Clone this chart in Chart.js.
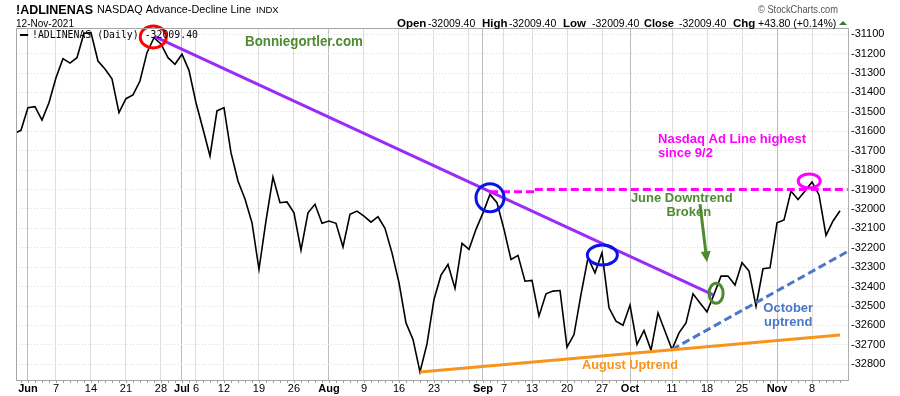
<!DOCTYPE html>
<html>
<head>
<meta charset="utf-8">
<script src="https://cdn.jsdelivr.net/npm/chart.js@4.4.0/dist/chart.umd.min.js"></script>
<style>
  html, body { margin: 0; padding: 0; background: #fff; }
  canvas { display: block; }
</style>
</head>
<body>
<canvas id="adChart" width="900" height="396"></canvas>
<script>
// trading days, 27 May - 12 Nov 2021 (MM-DD)
const tradingDays = [
  '05-27','05-28',
  '06-01','06-02','06-03','06-04','06-07','06-08','06-09','06-10','06-11','06-14','06-15','06-16','06-17','06-18',
  '06-21','06-22','06-23','06-24','06-25','06-28','06-29','06-30',
  '07-01','07-02','07-06','07-07','07-08','07-09','07-12','07-13','07-14','07-15','07-16','07-19','07-20','07-21',
  '07-22','07-23','07-26','07-27','07-28','07-29','07-30',
  '08-02','08-03','08-04','08-05','08-06','08-09','08-10','08-11','08-12','08-13','08-16','08-17','08-18','08-19',
  '08-20','08-23','08-24','08-25','08-26','08-27','08-30','08-31',
  '09-01','09-02','09-03','09-07','09-08','09-09','09-10','09-13','09-14','09-15','09-16','09-17','09-20','09-21',
  '09-22','09-23','09-24','09-27','09-28','09-29','09-30',
  '10-01','10-04','10-05','10-06','10-07','10-08','10-11','10-12','10-13','10-14','10-15','10-18','10-19','10-20',
  '10-21','10-22','10-25','10-26','10-27','10-28','10-29',
  '11-01','11-02','11-03','11-04','11-05','11-08','11-09','11-10','11-11','11-12'
];

// !ADLINENAS daily close
const adValues = [
  -31612, -31595,
  -31478, -31473, -31542, -31453, -31324, -31226, -31249, -31221, -31095, -31092, -31238, -31279, -31330, -31504,
  -31432, -31413, -31341, -31195, -31118, -31150, -31221, -31255,
  -31203, -31286, -31453, -31588, -31727, -31495, -31478, -31710, -31856, -31949, -32071, -32311, -32062, -31836,
  -31968, -31964, -32020, -32212, -32020, -31976, -32074,
  -32062, -32074, -32196, -32028, -32011, -32037, -32068, -32040, -32100, -32226, -32380, -32587, -32672, -32840,
  -32695, -32466, -32341, -32286, -32409, -32177, -32208, -32105,
  -32020, -31925, -31968, -32105, -32260, -32239, -32372, -32368, -32552, -32437, -32423, -32420, -32712, -32647,
  -32440, -32252, -32329, -32226, -32509, -32578, -32599,
  -32495, -32698, -32626, -32727, -32535, -32630, -32724, -32638, -32587, -32437, -32484, -32530, -32440, -32346,
  -32346, -32392, -32277, -32320, -32501, -32308, -32303,
  -32071, -32057, -31908, -31951, -31908, -31861, -31928, -32136, -32062, -32009.4
];

const tickDates  = ['06-01','06-07','06-14','06-21','06-28','07-01','07-06','07-12','07-19','07-26',
                    '08-02','08-09','08-16','08-23','08-30','09-01','09-07','09-13','09-20','09-27',
                    '10-01','10-11','10-18','10-25','11-01','11-08'];
const tickLabels = ['Jun','7','14','21','28','Jul','6','12','19','26',
                    'Aug','9','16','23','','Sep','7','13','20','27',
                    'Oct','11','18','25','Nov','8'];
const monthLabels = ['Jun','Jul','Aug','Sep','Oct','Nov'];
const yTicks = [-31100,-31200,-31300,-31400,-31500,-31600,-31700,-31800,-31900,
                -32000,-32100,-32200,-32300,-32400,-32500,-32600,-32700,-32800];

// hand-drawn markup, in (trading day index, value)
const trendLines = [
  { from: [20.1, -31112], to: [99.9, -32443],  color: '#9a2cf5', dash: [] },
  { from: [68, -31911],   to: [74.4, -31911],  color: '#ff00ff', dash: [8, 4] },
  { from: [74.4, -31900], to: [119.1, -31900], color: '#ff00ff', dash: [8, 4] },
  { from: [94, -32724],   to: [119.1, -32219], color: '#4a78c8', dash: [8, 4] },
  { from: [58, -32840],   to: [118, -32649],   color: '#f7941d', dash: [] }
];
const rings = [
  { at: [19.9, -31114],  rx: 13, ry: 11, color: '#ff0000' },
  { at: [68, -31942],    rx: 14, ry: 14, color: '#0a14e6' },
  { at: [84.05, -32237], rx: 15, ry: 10, color: '#0a14e6' },
  { at: [100.3, -32434], rx: 7,  ry: 10, color: '#4e8a31' },
  { at: [113.6, -31856], rx: 11, ry: 7,  color: '#ff00ff' }
];
const notes = [
  { text: 'Bonniegortler.com',      at: [33, -31140],    align: 'left',   w: 118, size: 14, color: '#4e8a31' },
  { text: 'Nasdaq Ad Line highest', at: [92, -31643],    align: 'left',   w: 150, size: 13, color: '#ff00ff' },
  { text: 'since 9/2',              at: [92, -31716],    align: 'left',   w: 0,   size: 13, color: '#ff00ff' },
  { text: 'June Downtrend',         at: [95.4, -31945],  align: 'center', w: 104, size: 13, color: '#4e8a31' },
  { text: 'Broken',                 at: [96.4, -32020],  align: 'center', w: 0,   size: 13, color: '#4e8a31' },
  { text: 'October',                at: [110.6, -32510], align: 'center', w: 0,   size: 13, color: '#4a78c8' },
  { text: 'uptrend',                at: [110.6, -32582], align: 'center', w: 0,   size: 13, color: '#4a78c8' },
  { text: 'August Uptrend',         at: [88, -32804],    align: 'center', w: 96,  size: 13, color: '#f7941d' }
];
const arrow = { from: [98, -31975], to: [99, -32275], color: '#4e8a31' };

const tickValues = tickDates.map(d => tradingDays.indexOf(d));
const FONT = '"Liberation Sans", Arial, sans-serif';

const markupPlugin = {
  id: 'markup',
  afterDatasetsDraw(chart) {
    const ctx = chart.ctx, xs = chart.scales.x, ys = chart.scales.y;
    const px = p => [xs.getPixelForValue(p[0]), ys.getPixelForValue(p[1])];
    ctx.save();
    ctx.lineWidth = 3;
    trendLines.forEach(t => {
      const a = px(t.from), b = px(t.to);
      ctx.strokeStyle = t.color;
      ctx.setLineDash(t.dash);
      ctx.beginPath(); ctx.moveTo(a[0], a[1]); ctx.lineTo(b[0], b[1]); ctx.stroke();
    });
    ctx.setLineDash([]);
    rings.forEach(r => {
      const c = px(r.at);
      ctx.strokeStyle = r.color;
      ctx.beginPath(); ctx.ellipse(c[0], c[1], r.rx, r.ry, 0, 0, Math.PI * 2); ctx.stroke();
    });
    // arrow
    const a = px(arrow.from), b = px(arrow.to);
    const ang = Math.atan2(b[1] - a[1], b[0] - a[0]);
    ctx.strokeStyle = arrow.color; ctx.fillStyle = arrow.color;
    ctx.beginPath(); ctx.moveTo(a[0], a[1]);
    ctx.lineTo(b[0] - 8 * Math.cos(ang), b[1] - 8 * Math.sin(ang)); ctx.stroke();
    ctx.beginPath();
    ctx.moveTo(b[0], b[1]);
    ctx.lineTo(b[0] - 11 * Math.cos(ang) + 5 * Math.sin(ang), b[1] - 11 * Math.sin(ang) - 5 * Math.cos(ang));
    ctx.lineTo(b[0] - 11 * Math.cos(ang) - 5 * Math.sin(ang), b[1] - 11 * Math.sin(ang) + 5 * Math.cos(ang));
    ctx.closePath(); ctx.fill();
    // notes
    ctx.textBaseline = 'middle';
    notes.forEach(n => {
      const p = px(n.at);
      ctx.font = 'bold ' + n.size + 'px ' + FONT;
      ctx.fillStyle = n.color;
      ctx.textAlign = n.align;
      if (n.w) ctx.fillText(n.text, p[0], p[1], n.w); else ctx.fillText(n.text, p[0], p[1]);
    });
    ctx.restore();
  },
  afterDraw(chart) {
    const ctx = chart.ctx, area = chart.chartArea, xs = chart.scales.x;
    ctx.save();
    // frame left / top
    ctx.strokeStyle = '#a6a6a6'; ctx.lineWidth = 1;
    ctx.beginPath();
    ctx.moveTo(area.left + 0.5, area.bottom); ctx.lineTo(area.left + 0.5, area.top + 0.5);
    ctx.lineTo(area.right, area.top + 0.5); ctx.stroke();
    // minor ticks under the date axis
    ctx.strokeStyle = '#9a9a9a';
    tradingDays.forEach((d, i) => {
      const x = Math.round(xs.getPixelForValue(i)) + 0.5;
      if (x < area.left || x > area.right) return;
      ctx.beginPath(); ctx.moveTo(x, area.bottom + 1); ctx.lineTo(x, area.bottom + 3); ctx.stroke();
    });

    // header
    ctx.fillStyle = '#000'; ctx.textBaseline = 'alphabetic'; ctx.textAlign = 'left';
    ctx.font = 'bold 13px ' + FONT;
    ctx.fillText('!ADLINENAS', 16, 14, 77);
    ctx.font = '11px ' + FONT;
    ctx.fillText('NASDAQ Advance-Decline Line', 97, 13, 154);
    ctx.font = '9.5px ' + FONT;
    ctx.fillText('INDX', 256, 13);
    ctx.font = '10.5px ' + FONT;
    ctx.fillText('12-Nov-2021', 16, 27, 58);
    ctx.fillStyle = '#555';
    ctx.font = '11px ' + FONT;
    ctx.fillText('\u00A9 StockCharts.com', 758, 13, 80);

    const ohlc = [
      ['Open', 397, true], ['-32009.40', 428, false],
      ['High', 482, true], ['-32009.40', 509, false],
      ['Low', 563, true], ['-32009.40', 592, false],
      ['Close', 644, true], ['-32009.40', 679, false],
      ['Chg', 733, true], ['+43.80 (+0.14%)', 758, false]
    ];
    ctx.fillStyle = '#000';
    ohlc.forEach(s => {
      ctx.font = (s[2] ? 'bold 11.5px ' : '10.5px ') + FONT;
      ctx.fillText(s[0], s[1], 27, s[2] ? 30 : 80);
    });
    ctx.fillStyle = '#2e7d32';
    ctx.beginPath(); ctx.moveTo(839, 25); ctx.lineTo(847, 25); ctx.lineTo(843, 21); ctx.closePath(); ctx.fill();

    // legend inside plot
    ctx.fillStyle = '#000';
    ctx.fillRect(20, 34, 8, 2);
    ctx.font = '10.5px "DejaVu Sans Mono", monospace';
    ctx.textBaseline = 'middle';
    ctx.fillText('!ADLINENAS (Daily) -32009.40', 32, 35.5, 166);
    ctx.restore();
  }
};

new Chart(document.getElementById('adChart'), {
  type: 'line',
  data: {
    datasets: [{
      label: '!ADLINENAS (Daily)',
      data: adValues.map((v, i) => ({ x: i, y: v })),
      borderColor: '#000',
      borderWidth: 1.6,
      pointRadius: 0,
      tension: 0,
      fill: false
    }]
  },
  options: {
    responsive: false,
    animation: false,
    devicePixelRatio: 1,
    layout: { padding: { left: 16, top: 28, right: 0, bottom: 0 } },
    plugins: { legend: { display: false }, tooltip: { enabled: false } },
    scales: {
      x: {
        type: 'linear',
        min: 0.29,
        max: 119.14,
        afterBuildTicks: s => { s.ticks = tickValues.map(v => ({ value: v })); },
        afterFit: s => { s.height = 16; },
        ticks: {
          autoSkip: false,
          maxRotation: 0,
          padding: 2,
          color: '#000',
          callback: (v, i) => tickLabels[i],
          font: ctx => ({
            family: FONT,
            size: 11,
            weight: monthLabels.includes(tickLabels[ctx.index]) ? 'bold' : 'normal'
          })
        },
        grid: {
          drawTicks: false,
          color: ctx => (ctx.tick && monthLabels.includes(tickLabels[ctx.index])) ? '#bdbdbd' : '#dddddd'
        },
        border: { display: true, color: '#a6a6a6' }
      },
      y: {
        position: 'right',
        min: -32881,
        max: -31068,
        afterBuildTicks: s => { s.ticks = yTicks.map(v => ({ value: v })); },
        afterFit: s => { s.width = 52; },
        ticks: {
          padding: 3,
          color: '#000',
          font: { family: FONT, size: 11 },
          callback: v => String(v)
        },
        grid: { drawTicks: false, color: '#dddddd' },
        border: { display: true, color: '#b0b0b0', dash: [1, 2] }
      }
    }
  },
  plugins: [markupPlugin]
});
</script>
</body>
</html>
